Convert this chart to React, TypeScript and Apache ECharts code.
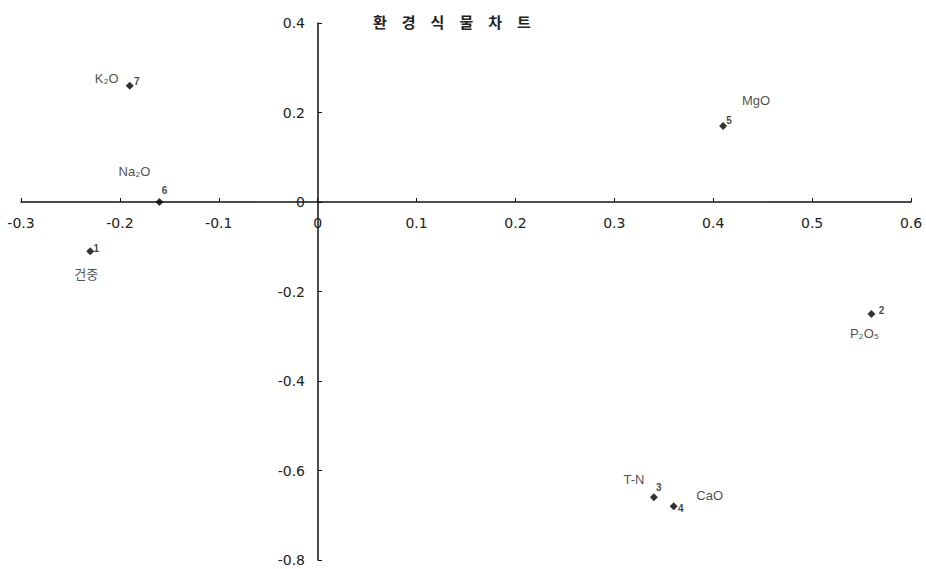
import React, { useEffect, useRef } from "react";
import * as echarts from "echarts";

const pointIds = ["1", "2", "3", "4", "5", "6", "7"];
const pointNames = ["건중", "P₂O₅", "T-N", "CaO", "MgO", "Na₂O", "K₂O"];
const xValues = [-0.23, 0.56, 0.34, 0.36, 0.41, -0.16, -0.19];
const yValues = [-0.11, -0.25, -0.66, -0.68, 0.17, 0, 0.26];
const titleText = "환\u2003경\u2003식\u2003물\u2003차\u2003트";

// label layout (pixel offsets from each point)
const idOffsets: [number, number][] = [
  [6, -3], [10, -3], [5, -10], [7, 2], [6, -5], [5, -12], [7, -4],
];
const nameOffsets: [number, number][] = [
  [-4, 23], [-7, 20], [-20, -18], [36, -11], [33, -25], [-25, -31], [-23, -7],
];

const FONT = "'Liberation Sans', Arial, 'Noto Sans CJK KR', sans-serif";
const TICK_FONT = "'DejaVu Sans', sans-serif";

export default function App() {
  const ref = useRef<HTMLDivElement>(null);
  useEffect(() => {
    if (!ref.current) return;
    const chart = echarts.init(ref.current, undefined, { renderer: "svg" });
    const fmt = (v: number) => (Math.abs(v) < 1e-9 ? "0" : v.toFixed(1));
    const idData = xValues.map((x, i) => ({
      value: [x, yValues[i]],
      label: { offset: idOffsets[i] },
    }));
    const nameData = xValues.map((x, i) => ({
      value: [x, yValues[i]],
      label: { offset: nameOffsets[i] },
    }));
    chart.setOption({
      animation: false,
      backgroundColor: "#ffffff",
      title: {
        text: titleText,
        left: 368,
        top: 9,
        textStyle: {
          fontFamily: "'Noto Sans CJK KR', sans-serif",
          fontSize: 15,
          fontWeight: "bold",
          color: "#222",
        },
      },
      grid: {
        left: 21,
        right: 15,
        top: 23,
        bottom: 9,
        containLabel: false,
        outerBoundsMode: "none",
      },
      xAxis: {
        type: "value",
        min: -0.3,
        max: 0.6,
        interval: 0.1,
        position: "bottom",
        offset: -358,
        axisLine: { onZero: false, lineStyle: { color: "#111", width: 1.5 } },
        axisTick: { show: true, inside: true, length: 4, lineStyle: { color: "#111" } },
        splitLine: { show: false },
        axisLabel: {
          margin: 14,
          formatter: fmt,
          color: "#222",
          fontSize: 14,
          fontFamily: TICK_FONT,
        },
      },
      yAxis: {
        type: "value",
        min: -0.8,
        max: 0.4,
        interval: 0.2,
        position: "left",
        offset: -297,
        axisLine: { onZero: false, lineStyle: { color: "#111", width: 1.5 } },
        axisTick: { show: true, inside: true, length: 4, lineStyle: { color: "#111" } },
        splitLine: { show: false },
        axisLabel: {
          margin: 13,
          formatter: fmt,
          color: "#222",
          fontSize: 14,
          fontFamily: TICK_FONT,
        },
      },
      series: [
        {
          type: "scatter",
          symbol: "diamond",
          symbolSize: 8,
          itemStyle: { color: "#000" },
          data: idData,
          label: {
            show: true,
            position: "inside",
            formatter: (p: any) => pointIds[p.dataIndex],
            color: "#111",
            fontSize: 10,
            fontWeight: "bold",
            fontFamily: FONT,
            align: "center",
            verticalAlign: "middle",
          },
          z: 3,
        },
        {
          type: "scatter",
          symbol: "circle",
          symbolSize: 1,
          itemStyle: { color: "rgba(0,0,0,0)" },
          data: nameData,
          silent: true,
          label: {
            show: true,
            position: "inside",
            formatter: (p: any) => pointNames[p.dataIndex],
            color: "#222",
            fontSize: 13,
            fontFamily: FONT,
            align: "center",
            verticalAlign: "middle",
          },
          z: 2,
        },
      ],
    });
    return () => chart.dispose();
  }, []);
  return (
    <div
      ref={ref}
      style={{ position: "fixed", left: 0, top: 0, width: 926, height: 569 }}
    />
  );
}
